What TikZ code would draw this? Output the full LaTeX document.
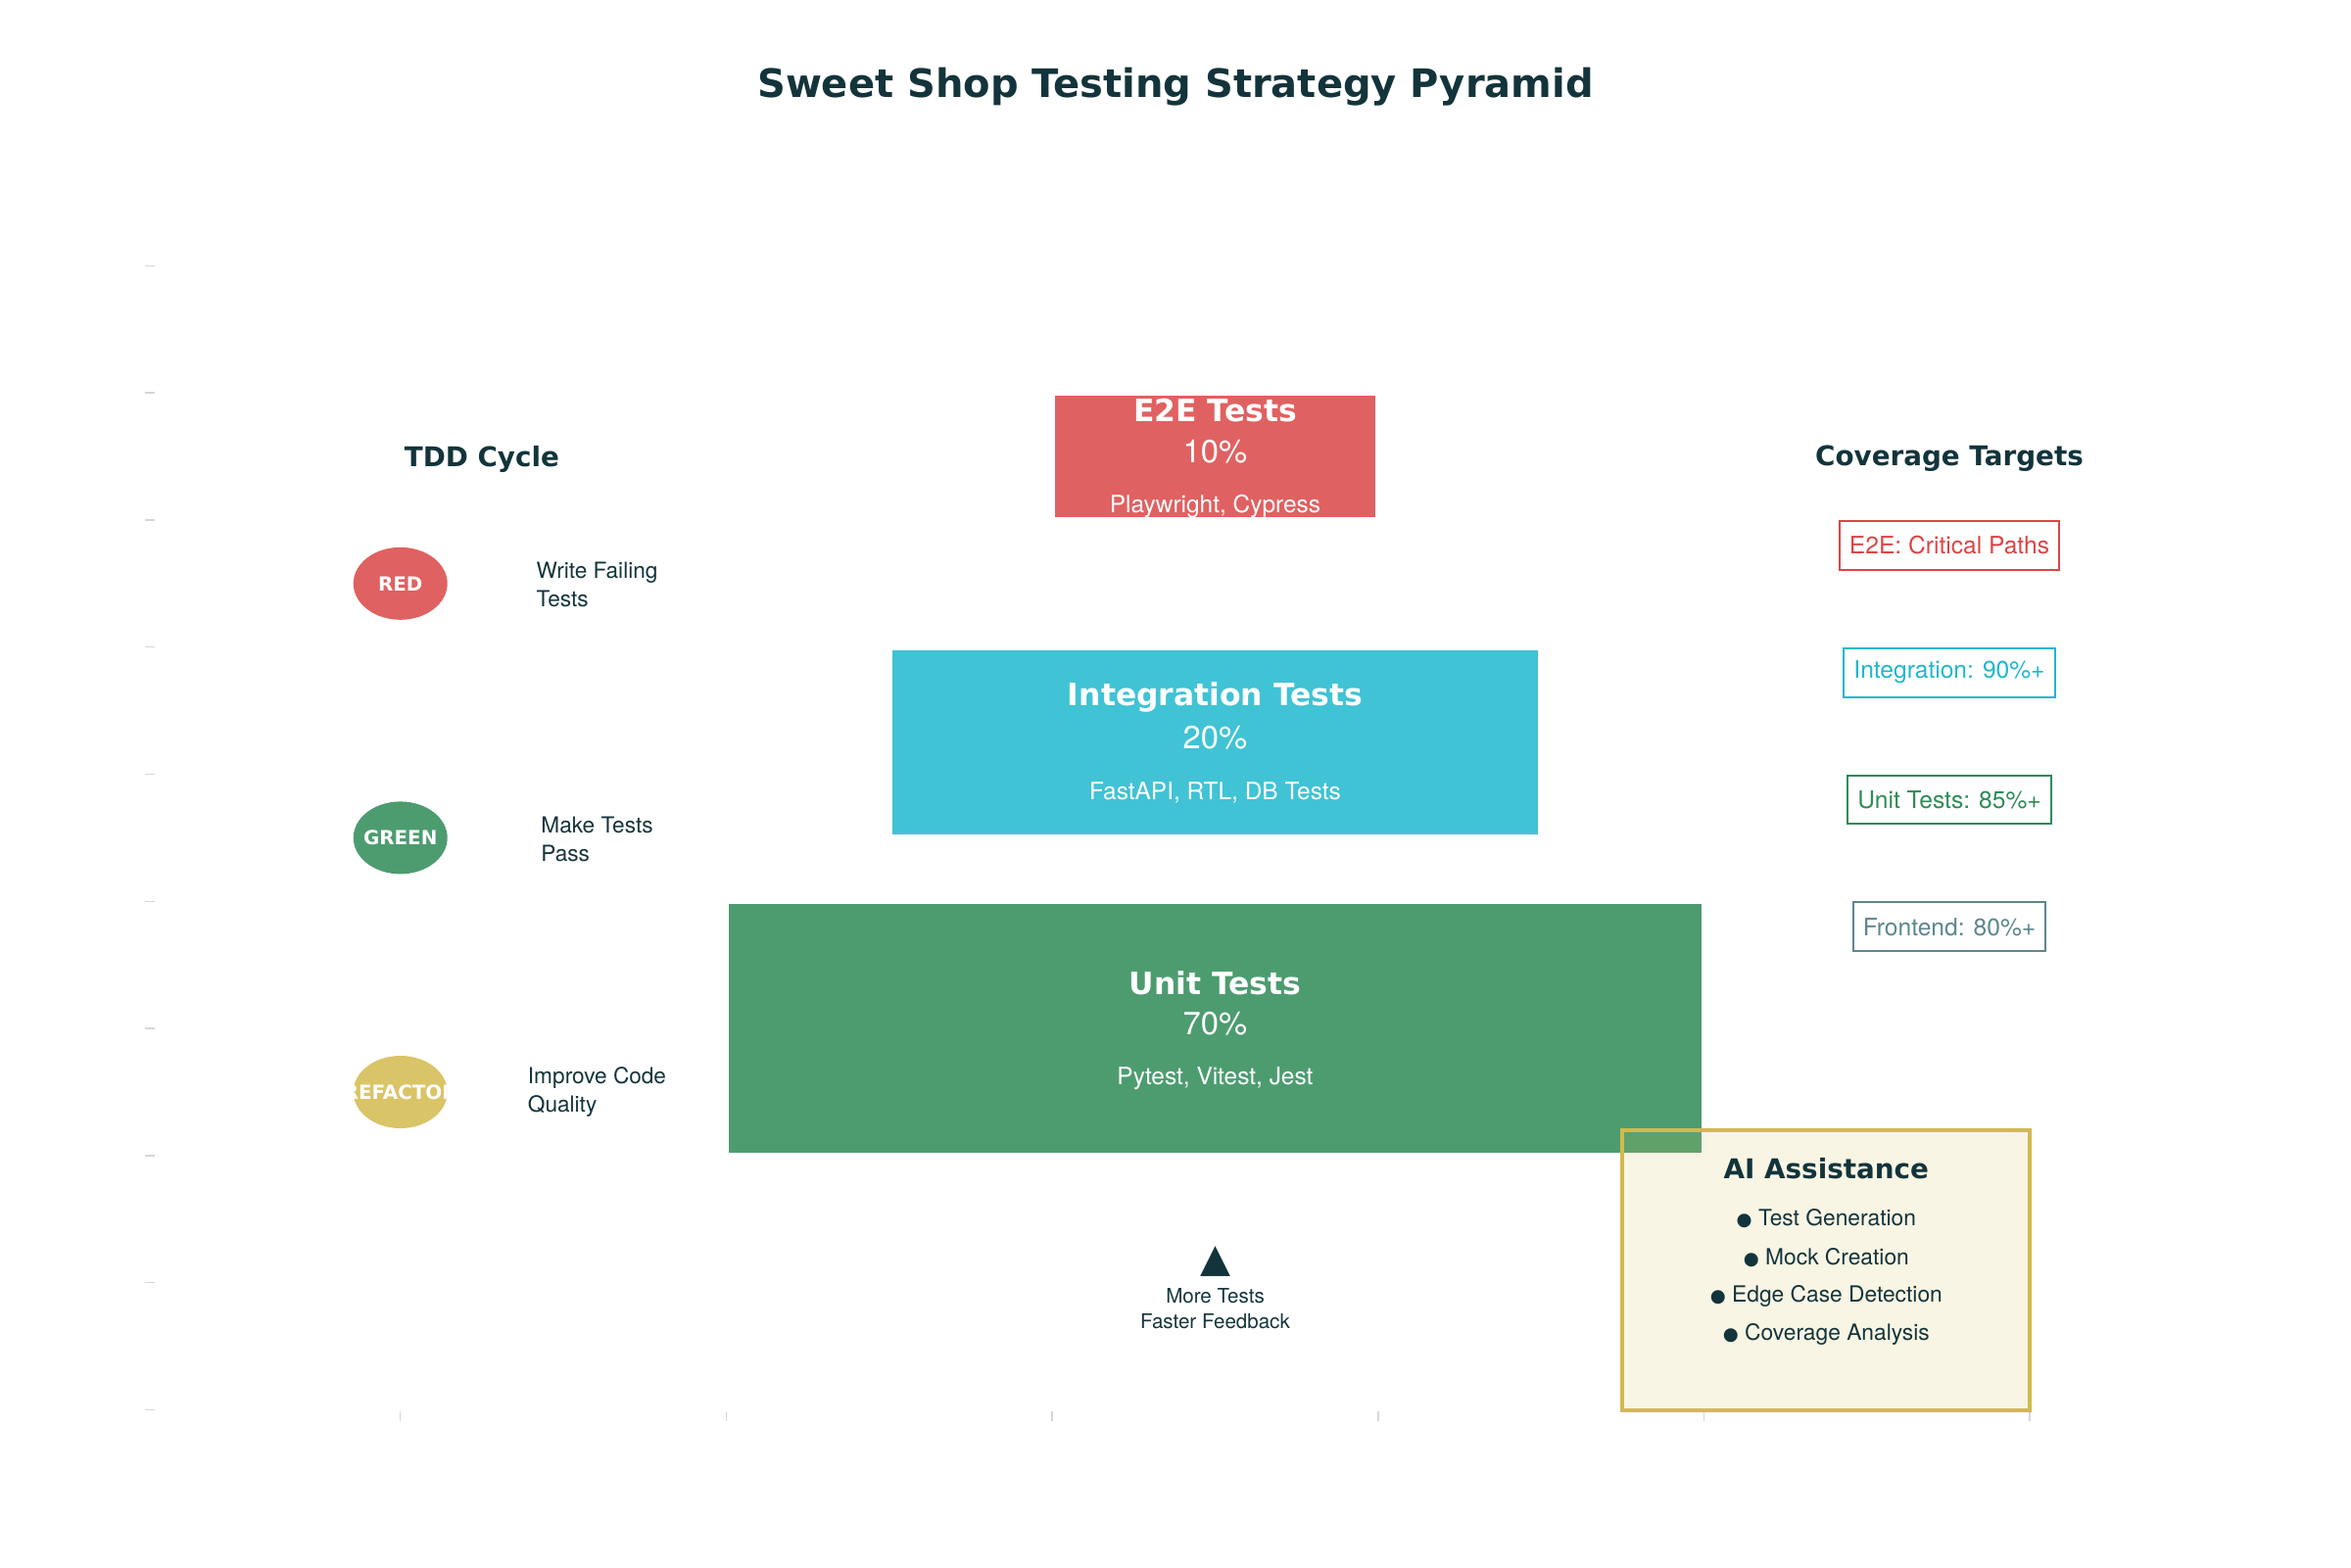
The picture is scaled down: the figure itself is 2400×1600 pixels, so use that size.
\documentclass[tikz,border=0pt]{standalone}
\usepackage{fontspec}
\setmainfont{TeX Gyre Heros}
\newfontfamily\dv{DejaVu Sans}
\usetikzlibrary{shapes.geometric}
\definecolor{ink}{HTML}{13343B}
\definecolor{cred}{HTML}{DB4545}
\definecolor{cteal}{HTML}{1FB8CD}
\definecolor{cgreen}{HTML}{2E8B57}
\definecolor{cgold}{HTML}{D2BA4C}
\definecolor{cslate}{HTML}{5D878F}
\definecolor{tickgray}{HTML}{D6D6D6}
\begin{document}
\begin{tikzpicture}[x=0.36pt, y=-0.36pt,
  tier/.style={fill=#1, fill opacity=0.85, draw=white, line width=2.16pt, inner sep=0pt},
  tiertitle/.style={text=white, inner sep=0pt, font={\dv\bfseries\fontsize{11.3pt}{13pt}\selectfont}},
  tierpct/.style={text=white, inner sep=0pt, font={\fontsize{11.8pt}{14pt}\selectfont}},
  tiersub/.style={text=white, inner sep=0pt, font={\fontsize{8.8pt}{10.5pt}\selectfont}},
  tdd/.style={ellipse, fill=#1, fill opacity=0.85, minimum width=34.56pt, minimum height=26.64pt, inner sep=0pt},
  tddlabel/.style={text=white, inner sep=0pt, font={\dv\bfseries\fontsize{7.15pt}{8.5pt}\selectfont}},
  tdddesc/.style={text=ink, align=left, inner sep=0pt, font={\fontsize{8.14pt}{10.3pt}\selectfont}},
  head/.style={text=ink, inner sep=0pt, font={\dv\bfseries\fontsize{10pt}{12pt}\selectfont}},
  target/.style={draw=#1, text=#1, fill=white, line width=0.72pt, inner xsep=3.6pt, inner ysep=0pt, minimum height=17.9pt, font={\fontsize{8.85pt}{10.5pt}\selectfont}},
  bullet/.style={text=ink, inner sep=0pt, font={\fontsize{8.2pt}{10pt}\selectfont}},
  tick/.style={draw=tickgray, line width=0.54pt}
]
\useasboundingbox (0,0) rectangle (2400,1600);

% axis ticks
\foreach \k in {0,...,9} {\draw[tick] (148,{1439.5-129.8*\k}) -- (158,{1439.5-129.8*\k});}
\foreach \k in {0,2,4,6,8,10} {\draw[tick] ({408.7+166.35*\k},1441) -- ({408.7+166.35*\k},1451);}

% title
\node[text=ink, inner sep=0pt, font={\dv\bfseries\fontsize{14.4pt}{17pt}\selectfont}] (title) at (1200,89) {Sweet Shop Testing Strategy Pyramid};

% pyramid tiers
\node[tier=cred, minimum width=119.77pt, minimum height=46.73pt] (e2e) at (1240.45,466.05) {};
\node[tier=cteal, minimum width=239.54pt, minimum height=70.09pt] (integ) at (1240.45,758.05) {};
\node[tier=cgreen, minimum width=359.31pt, minimum height=93.46pt] (unit) at (1240.45,1050.1) {};

\node[tiertitle] (e2eT) at (1240.45,419.5) {E2E Tests};
\node[tierpct] (e2eP) at (1240.45,461) {10\%};
\node[tiersub] (e2eS) at (1240.45,517.5) {Playwright, Cypress};

\node[tiertitle] (integT) at (1240.45,711.5) {Integration Tests};
\node[tierpct] (integP) at (1240.45,753) {20\%};
\node[tiersub] (integS) at (1240.45,809.5) {FastAPI, RTL, DB Tests};

\node[tiertitle] (unitT) at (1240.45,1003.5) {Unit Tests};
\node[tierpct] (unitP) at (1240.45,1045) {70\%};
\node[tiersub] (unitS) at (1240.45,1101.5) {Pytest, Vitest, Jest};

% TDD cycle
\node[head] (tddH) at (491.9,469) {TDD Cycle};
\node[tdd=cred] (red) at (408.7,595.8) {};
\node[tddlabel] at (red) {RED};
\node[tdddesc] (redD) at (609.5,597) {Write Failing\\Tests};
\node[tdd=cgreen] (green) at (408.7,855.4) {};
\node[tddlabel] at (green) {GREEN};
\node[tdddesc] (greenD) at (609.5,857) {Make Tests\\Pass};
\node[tdd=cgold] (refactor) at (408.7,1115.0) {};
\node[tddlabel] at (refactor) {REFACTOR};
\node[tdddesc] (refactorD) at (609.5,1115) {Improve Code\\Quality};

% coverage targets
\node[head] (covH) at (1990,468) {Coverage Targets};
\node[target=cred] (covE) at (1990,556.9) {E2E: Critical Paths};
\node[target=cteal] (covI) at (1990,686.7) {Integration: 90\%+};
\node[target=cgreen] (covU) at (1990,816.5) {Unit Tests: 85\%+};
\node[target=cslate] (covF) at (1990,946.3) {Frontend: 80\%+};

% AI assistance
\node[draw=cgold, fill=cgold, fill opacity=0.15, line width=1.44pt, minimum width=149.7pt, minimum height=102.8pt, inner sep=0pt] (ai) at (1864.25,1296.7) {};
\node[head] (aiT) at (1864.3,1193) {AI Assistance};
\node[bullet] (b1) at (1864.3,1244.5) {{\dv\fontsize{6.6pt}{8pt}\selectfont ●} Test Generation};
\node[bullet] (b2) at (1864.3,1284) {{\dv\fontsize{6.6pt}{8pt}\selectfont ●} Mock Creation};
\node[bullet] (b3) at (1864.3,1323) {{\dv\fontsize{6.6pt}{8pt}\selectfont ●} Edge Case Detection};
\node[bullet] (b4) at (1864.3,1362) {{\dv\fontsize{6.6pt}{8pt}\selectfont ●} Coverage Analysis};

% base note
\node[text=ink, inner sep=0pt, font={\dv\fontsize{14.5pt}{16pt}\selectfont}] (arrow) at (1241,1288) {▲};
\node[text=ink, align=center, inner sep=0pt, font={\fontsize{7.4pt}{9.25pt}\selectfont}] (note) at (1240.5,1336) {More Tests\\Faster Feedback};
\end{tikzpicture}
\end{document}
